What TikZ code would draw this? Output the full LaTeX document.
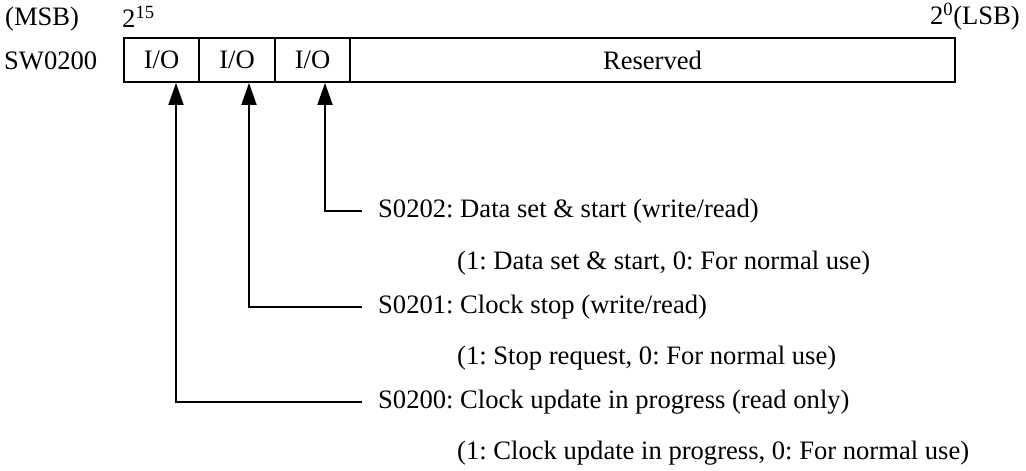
\documentclass[tikz,border=0pt]{standalone}
\usepackage{fontspec}
\setmainfont{Liberation Serif}
\usetikzlibrary{arrows.meta,positioning,calc}
\frenchspacing
\tikzset{
  cell/.style={draw, line width=1.9pt, minimum height=44pt, inner sep=0pt, anchor=center},
  lbl/.style={inner sep=0pt},
  desc/.style={anchor=west, inner xsep=16pt, inner ysep=0pt},
  sub/.style={anchor=west, inner sep=0pt},
  conn/.style={line width=1.9pt, -{Triangle[width=15pt,length=22pt]}}
}
\begin{document}
\begin{tikzpicture}[x=1pt,y=-1pt, font=\fontsize{26.6}{31}\selectfont]
\useasboundingbox (0,0) rectangle (1026,471);
% register cells
\node[cell, minimum width=75pt] (c1) at (161.5,60) {I/O};
\node[cell, minimum width=76pt] (c2) at (237,60) {I/O};
\node[cell, minimum width=75pt] (c3) at (312.5,60) {I/O};
\node[cell, minimum width=605pt] (c4) at (652.5,60) {Reserved};
% header labels
\node[lbl, anchor=west] (msb) at (5,19) {(MSB)};
\node[lbl, anchor=west] (hi) at (122,17) {2\textsuperscript{15}};
\node[lbl, anchor=east] (lsb) at (1020,17) {2\textsuperscript{0}(LSB)};
\node[lbl, anchor=west] (sw) at (4,61) {SW0200};
% descriptions
\node[desc] (t2) at (362,211) {S0202: Data set \& start (write/read)};
\node[sub] (u2) at (457,263) {(1: Data set \& start, 0: For normal use)};
\node[desc] (t1) at (362,307) {S0201: Clock stop (write/read)};
\node[sub] (u1) at (457,358) {(1: Stop request, 0: For normal use)};
\node[desc] (t0) at (362,402) {S0200: Clock update in progress (read only)};
\node[sub] (u0) at (457,453) {(1: Clock update in progress, 0: For normal use)};
% connectors
\draw[conn] (t2.west) -| ([xshift=12.5pt]c3.south);
\draw[conn] (t1.west) -| ([xshift=12pt]c2.south);
\draw[conn] (t0.west) -| ([xshift=14.5pt]c1.south);
\end{tikzpicture}
\end{document}
